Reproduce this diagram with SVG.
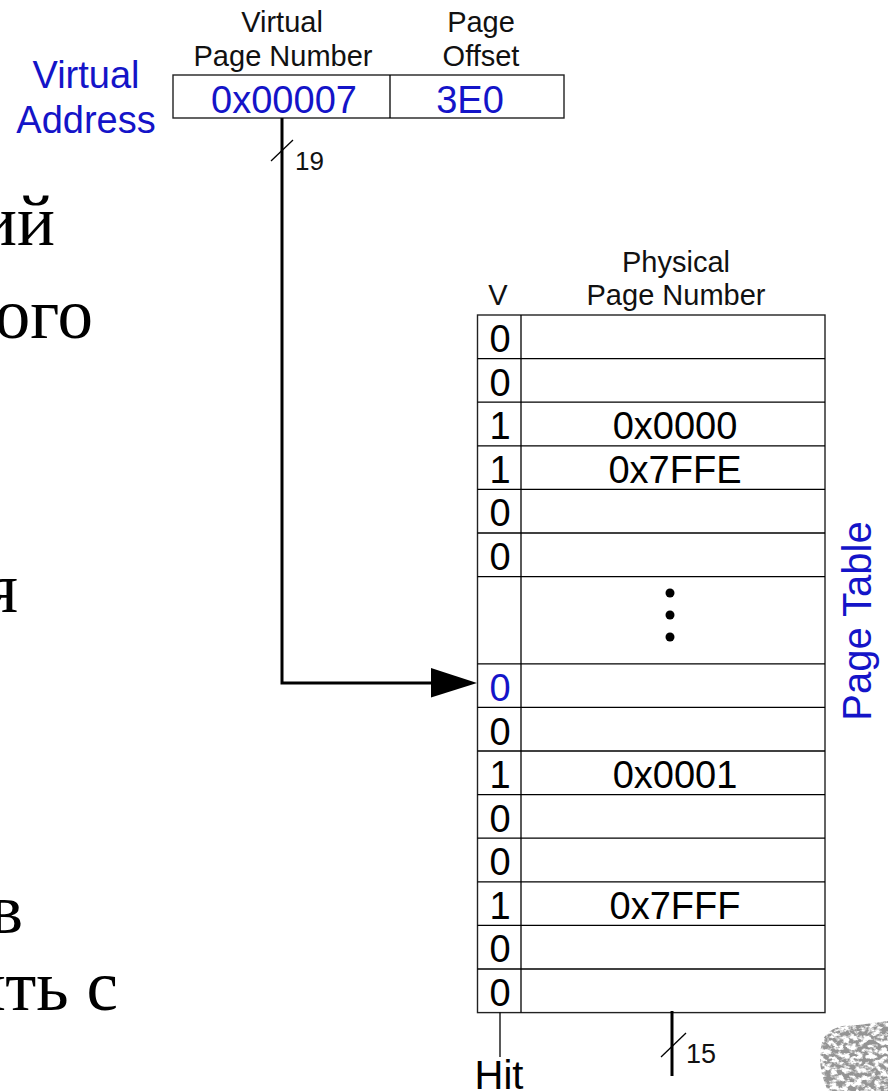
<svg xmlns="http://www.w3.org/2000/svg" width="888" height="1091" viewBox="0 0 888 1091">
  <style>
    .sans { font-family: "Liberation Sans", Arial, sans-serif; }
    .serif { font-family: "Liberation Serif", "Times New Roman", serif; font-size: 71px; fill: #000; }
    .lbl { font-size: 29px; fill: #111; text-anchor: middle; }
    .blue { fill: #1414c8; }
    .big { font-size: 38px; text-anchor: middle; }
    .cell { fill: #fff; stroke: #222; stroke-width: 1.4; }
    .bus { stroke: #000; stroke-width: 3; fill: none; }
    .thin { stroke: #000; stroke-width: 1.3; fill: none; }
  </style>
  <defs>
    <filter id="foliage" x="0" y="0" width="1" height="1">
      <feTurbulence type="fractalNoise" baseFrequency="0.16 0.22" numOctaves="3" seed="7" result="n"/>
      <feColorMatrix in="n" type="matrix" values="0 0 0 0 0.3  0 0 0 0 0.3  0 0 0 0 0.3  5 0 0 0 -1.9" result="g"/>
      <feComposite in="g" in2="SourceGraphic" operator="in"/>
    </filter>
  </defs>

  <rect width="888" height="1091" fill="#fff"/>

  <!-- slide body text running off the left edge -->
  <g id="body-text" class="serif" text-anchor="end">
    <text x="55" y="245">ий</text>
    <text x="93" y="338">ого</text>
    <text x="18" y="612">я</text>
    <text x="23" y="933">в</text>
    <text x="118" y="1010">ять с</text>
  </g>

  <!-- virtual address register -->
  <g id="virtual-address" class="sans">
    <text class="big blue" x="86" y="88" font-size="39">Virtual</text>
    <text class="big blue" x="86" y="133" font-size="39">Address</text>
    <text class="lbl" x="282" y="32">Virtual</text>
    <text class="lbl" x="283" y="66">Page Number</text>
    <text class="lbl" x="481" y="32">Page</text>
    <text class="lbl" x="481" y="66">Offset</text>
    <rect class="cell" x="173" y="75" width="391" height="43"/>
    <line class="thin" x1="390" y1="75" x2="390" y2="118"/>
    <text class="big blue" x="284" y="113">0x00007</text>
    <text class="big blue" x="470" y="113">3E0</text>
  </g>

  <!-- page table -->
  <g id="page-table" class="sans">
    <text class="lbl" x="498" y="305">V</text>
    <text class="lbl" x="676" y="272">Physical</text>
    <text class="lbl" x="676" y="305">Page Number</text>
    <rect class="cell" x="477.5" y="315" width="347.5" height="697.6"/>
    <line class="thin" x1="521" y1="315" x2="521" y2="1012.6"/>
    <g class="thin">
      <line x1="477.5" y1="358.6" x2="825" y2="358.6"/>
      <line x1="477.5" y1="402.2" x2="825" y2="402.2"/>
      <line x1="477.5" y1="445.8" x2="825" y2="445.8"/>
      <line x1="477.5" y1="489.4" x2="825" y2="489.4"/>
      <line x1="477.5" y1="533" x2="825" y2="533"/>
      <line x1="477.5" y1="576.6" x2="825" y2="576.6"/>
      <line x1="477.5" y1="663.8" x2="825" y2="663.8"/>
      <line x1="477.5" y1="707.4" x2="825" y2="707.4"/>
      <line x1="477.5" y1="751" x2="825" y2="751"/>
      <line x1="477.5" y1="794.6" x2="825" y2="794.6"/>
      <line x1="477.5" y1="838.2" x2="825" y2="838.2"/>
      <line x1="477.5" y1="881.8" x2="825" y2="881.8"/>
      <line x1="477.5" y1="925.4" x2="825" y2="925.4"/>
      <line x1="477.5" y1="969" x2="825" y2="969"/>
    </g>
    <g class="big" fill="#000">
      <text x="500" y="352">0</text>
      <text x="500" y="396">0</text>
      <text x="500" y="439">1</text>
      <text x="500" y="483">1</text>
      <text x="500" y="526">0</text>
      <text x="500" y="570">0</text>
      <text class="blue" x="500" y="701">0</text>
      <text x="500" y="745">0</text>
      <text x="500" y="788">1</text>
      <text x="500" y="832">0</text>
      <text x="500" y="875">0</text>
      <text x="500" y="919">1</text>
      <text x="500" y="962">0</text>
      <text x="500" y="1006">0</text>
      <text x="675" y="439">0x0000</text>
      <text x="675" y="483">0x7FFE</text>
      <text x="675" y="788">0x0001</text>
      <text x="675" y="919">0x7FFF</text>
    </g>
    <g fill="#000">
      <circle cx="670" cy="593" r="4.5"/>
      <circle cx="670" cy="615" r="4.5"/>
      <circle cx="670" cy="637" r="4.5"/>
    </g>
    <text class="sans blue" font-size="40" text-anchor="middle" transform="translate(871 621) rotate(-90)">Page Table</text>
  </g>

  <!-- outputs below the table -->
  <g id="hit" class="sans">
    <text x="499" y="1089" font-size="40" text-anchor="middle" fill="#000">Hit</text>
  </g>
  <g id="ppn-out" class="sans">
    <text x="686" y="1063" font-size="27" fill="#111">15</text>
  </g>

  <!-- connectors -->
  <g id="connectors">
    <polyline class="bus" points="282,118 282,683 432,683"/>
    <polygon points="431,668 477,683 431,697.5" fill="#000"/>
    <line class="thin" x1="271" y1="161" x2="293" y2="140"/>
    <text class="sans" x="295" y="170" font-size="26" fill="#111">19</text>
    <line class="thin" x1="500" y1="1012.6" x2="500" y2="1057"/>
    <line class="bus" x1="672" y1="1011" x2="672" y2="1076"/>
    <line class="thin" x1="661" y1="1057" x2="686" y2="1033"/>
  </g>

  <!-- engraved foliage in the corner -->
  <path d="M822 1042 Q828 1024 858 1025 L888 1021 L888 1091 L828 1091 Q816 1066 822 1042 Z" fill="#fff" filter="url(#foliage)"/>
</svg>
